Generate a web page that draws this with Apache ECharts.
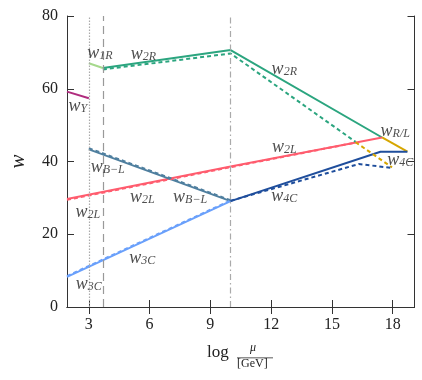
<!DOCTYPE html>
<html><head><meta charset="utf-8">
<script src="https://cdn.jsdelivr.net/npm/echarts@6/dist/echarts.min.js"></script>
<style>html,body{margin:0;padding:0;background:#fff}#c{width:422px;height:380px}</style>
</head><body><div id="c"></div>
<script>
// ---- data ----
const xTicks = [3, 6, 9, 12, 15, 18];
const yTicks = [0, 20, 40, 60, 80];
const thresholds = [3, 3.69, 10];          // vertical reference lines (log mu)

// solid curves [x, w]
const wY   = [[1.92, 59.2], [3, 57.4]];
const w1R  = [[3, 67.0], [3.69, 65.7]];
const w2R  = [[3.69, 65.7], [10, 70.65], [17.48, 46.6]];
const w2L  = [[1.92, 29.7], [10, 38.6], [17.48, 46.6]];
const wRL  = [[17.48, 46.6], [18.73, 42.7]];
const wBL  = [[3, 43.35], [10, 29.1]];
const w3C  = [[1.92, 8.3], [10, 29.1]];
const w4C  = [[10, 29.1], [17.4, 42.7], [18.73, 42.7]];

// dashed curves [x, w]
const w2Rd = [[3.69, 65.3], [10, 69.7], [16.17, 45.4]];
const w2Ld = [[1.92, 29.45], [10, 38.45], [16.17, 45.2]];
const wRLd = [[16.17, 45.3], [17.97, 38.4]];
const wBLd = [[3, 43.65], [10, 29.35]];
const w3Cd = [[1.92, 8.5], [10, 29.3]];
const w4Cd = [[10, 29.2], [16.33, 39.3], [18.03, 38.2]];

// curve labels: [x, w, main, subscript]
const labels = [
  [3.54, 69.8, 'w', '1R'],
  [5.69, 69.55, 'w', '2R'],
  [2.46, 55.3, 'w', 'Y'],
  [12.65, 65.4, 'w', '2R'],
  [3.93, 38.5, 'w', 'B\u2212L'],
  [5.64, 30.2, 'w', '2L'],
  [8.0, 30.2, 'w', 'B\u2212L'],
  [2.95, 26.1, 'w', '2L'],
  [12.65, 44.0, 'w', '2L'],
  [18.13, 48.4, 'w', 'R/L'],
  [18.38, 40.4, 'w', '4C'],
  [12.65, 30.5, 'w', '4C'],
  [5.64, 13.5, 'w', '3C'],
  [3.0, 6.3, 'w', '3C']
];

// ---- chart ----
const SERIF = 'Liberation Serif';
const C = {
  Y: '#b02c7e', R1: '#a6d98c', R2: '#2ba57f', L2: '#ff5c6e',
  BL: '#4f7f9f', C3: '#6aa0fb', C4: '#1f4e9c', RL: '#d6a600'
};
function solid(data, color) {
  return {type: 'line', data, symbol: 'none', lineStyle: {color, width: 2}, itemStyle: {color}, z: 3, animation: false};
}
function dashed(data, color) {
  return {type: 'line', data, symbol: 'none', lineStyle: {color, width: 2, type: [4, 3]}, itemStyle: {color}, z: 4, animation: false};
}
const vline = (x, type, color) => ({xAxis: x, lineStyle: {type, color, width: 1.2}});

const chart = echarts.init(document.getElementById('c'), null, {renderer: 'canvas'});
const axisLine = {show: true, lineStyle: {color: '#333', width: 1}};
const xmin = 1.92, xmax = 19.08;
chart.setOption({
  animation: false,
  grid: {left: 64, right: 7.5, top: 16, bottom: 73},
  xAxis: [
    {type: 'value', min: xmin, max: xmax, axisLine, splitLine: {show: false},
     axisTick: {inside: true, length: 7, customValues: xTicks, lineStyle: {color: '#333'}},
     axisLabel: {customValues: xTicks, fontFamily: SERIF, fontSize: 16, color: '#222', margin: 10}},
    {type: 'value', position: 'top', min: xmin, max: xmax, axisLine, splitLine: {show: false},
     axisTick: {inside: true, length: 7, customValues: xTicks, lineStyle: {color: '#333'}},
     axisLabel: {show: false}}
  ],
  yAxis: [
    {type: 'value', min: 0, max: 80, interval: 20, axisLine, splitLine: {show: false},
     axisTick: {inside: true, length: 7, lineStyle: {color: '#333'}},
     axisLabel: {fontFamily: SERIF, fontSize: 16, color: '#222', margin: 9},
     name: 'w', nameLocation: 'middle', nameRotate: 90, nameGap: 38,
     nameTextStyle: {fontFamily: SERIF, fontStyle: 'italic', fontSize: 21, color: '#222'}},
    {type: 'value', position: 'right', min: 0, max: 80, interval: 20, axisLine, splitLine: {show: false},
     axisTick: {inside: true, length: 7, lineStyle: {color: '#333'}}, axisLabel: {show: false}}
  ],
  series: [
    {type: 'line', data: [], symbol: 'none', silent: true,
     markLine: {symbol: 'none', silent: true, label: {show: false}, animation: false,
       data: [vline(thresholds[0], [1.5, 1.5], '#aaa'), vline(thresholds[1], [8, 5], '#999'), vline(thresholds[2], [6, 3, 1.5, 3], '#aaa')]}},
    solid(wY, C.Y), solid(w1R, C.R1), solid(w2R, C.R2), solid(w2L, C.L2), solid(wRL, C.RL),
    solid(wBL, C.BL), solid(w3C, C.C3), solid(w4C, C.C4),
    dashed(w2Rd, C.R2), dashed(w2Ld, C.L2), dashed(wRLd, C.RL), dashed(wBLd, C.BL), dashed(w3Cd, C.C3), dashed(w4Cd, C.C4),
    {type: 'scatter', symbolSize: 0, z: 10, silent: true,
     data: labels.map(l => ({value: [l[0], l[1]], main: l[2], sub: l[3]})),
     label: {show: true, position: 'inside',
       formatter: p => '{m|' + p.data.main + '}{s|' + p.data.sub + '}',
       rich: {
         m: {fontFamily: SERIF, fontStyle: 'italic', fontSize: 18, color: '#222', verticalAlign: 'bottom'},
         s: {fontFamily: SERIF, fontStyle: 'italic', fontSize: 12, color: '#222', verticalAlign: 'bottom', padding: [6, 0, 0, 0]}
       }}}
  ],
  graphic: [
    {type: 'text', left: 207, top: 344, style: {text: 'log', font: '17px "Liberation Serif"', fill: '#222'}},
    {type: 'text', left: 250, top: 342, style: {text: 'μ', font: 'italic 12px "Liberation Serif"', fill: '#222'}},
    {type: 'rect', shape: {x: 237, y: 357.5, width: 36, height: 0.8}, style: {fill: '#222'}},
    {type: 'text', left: 237, top: 358, style: {text: '[GeV]', font: '12px "Liberation Serif"', fill: '#222'}}
  ]
});
</script></body></html>
